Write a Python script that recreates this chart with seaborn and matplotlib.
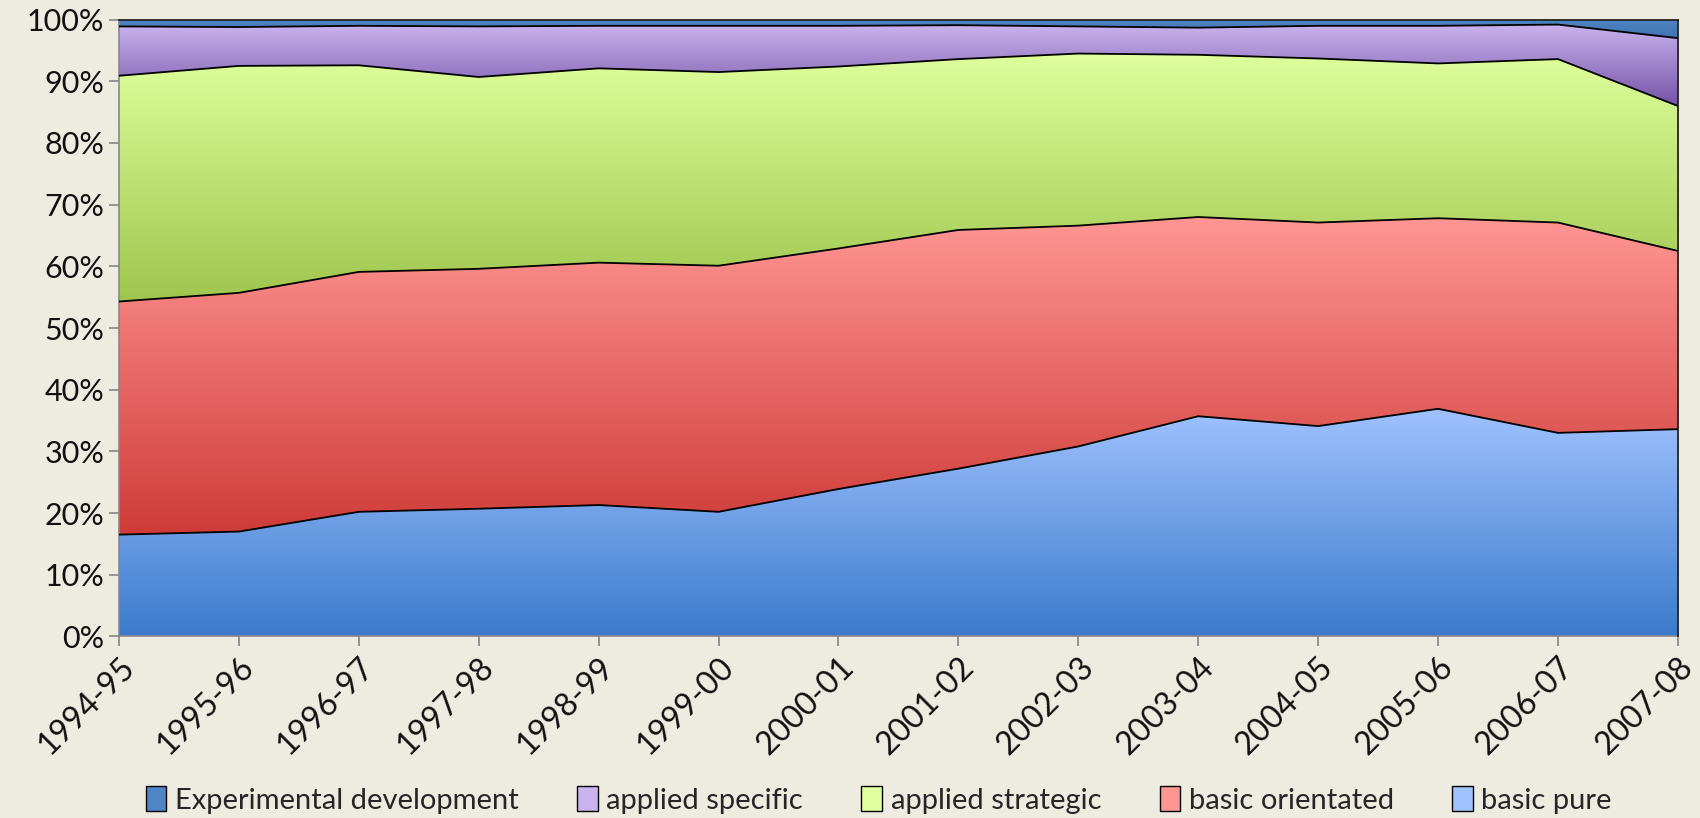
"""100% stacked area chart of research funding by activity type."""

import matplotlib
matplotlib.use("Agg")
import matplotlib.pyplot as plt
import numpy as np
import seaborn as sns
from matplotlib.colors import LinearSegmentedColormap
from matplotlib.patches import Patch
from matplotlib.ticker import FuncFormatter

years = ["1994-95", "1995-96", "1996-97", "1997-98", "1998-99", "1999-00", "2000-01",
         "2001-02", "2002-03", "2003-04", "2004-05", "2005-06", "2006-07", "2007-08"]

# shares in percent, bottom to top
basic_pure = [16.5, 17.0, 20.2, 20.7, 21.3, 20.2, 23.9, 27.2, 30.8, 35.7, 34.1, 36.9, 33.0, 33.6]
basic_orientated = [37.8, 38.7, 38.9, 38.9, 39.3, 39.9, 39.0, 38.7, 35.8, 32.3, 33.0, 30.9, 34.1, 28.9]
applied_strategic = [36.6, 36.8, 33.5, 31.1, 31.5, 31.4, 29.5, 27.7, 27.9, 26.3, 26.6, 25.1, 26.5, 23.5]
applied_specific = [8.0, 6.3, 6.4, 8.2, 6.9, 7.5, 6.6, 5.5, 4.4, 4.4, 5.3, 6.1, 5.6, 11.0]
experimental_dev = [1.1, 1.2, 1.0, 1.1, 1.0, 1.0, 1.0, 0.9, 1.1, 1.3, 1.0, 1.0, 0.8, 3.0]

series_names = ["basic pure", "basic orientated", "applied strategic",
                "applied specific", "Experimental development"]
series_values = [basic_pure, basic_orientated, applied_strategic,
                 applied_specific, experimental_dev]
# (light top colour, dark bottom colour) for each series
gradients = [("#A0C2FF", "#3B7BCC"), ("#FF9694", "#CF3B37"), ("#DEFF9C", "#9FC64E"),
             ("#C9B3EE", "#7452A6"), ("#4F85C4", "#3F72B0")]

sns.set_theme(style="ticks", rc={
    "figure.facecolor": "#EEECE1",
    "axes.facecolor": "#EEECE1",
    "savefig.facecolor": "#EEECE1",
})
plt.rcParams["font.family"] = ["Lato", "DejaVu Sans"]

fig, ax = plt.subplots(figsize=(17, 8.18), dpi=100)
fig.subplots_adjust(left=0.070, right=0.987, top=0.976, bottom=0.222)

x = np.arange(len(years))
data = np.array(series_values)
tops = np.cumsum(data, axis=0)
bottoms = tops - data
grad = np.linspace(0, 1, 256).reshape(-1, 1)

for i, name in enumerate(series_names):
    lo, hi = bottoms[i], tops[i]
    poly = ax.fill_between(x, lo, hi, facecolor="none", edgecolor="none")
    cmap = LinearSegmentedColormap.from_list(name, [gradients[i][1], gradients[i][0]])
    im = ax.imshow(grad, extent=[x[0], x[-1], lo.min(), hi.max()], origin="lower",
                   aspect="auto", cmap=cmap, zorder=1)
    im.set_clip_path(poly.get_paths()[0], transform=ax.transData)

for i in range(len(series_names) - 1):
    sns.lineplot(x=x, y=tops[i], color="black", linewidth=1.3, ax=ax, zorder=3)

ax.set_xlim(x[0], x[-1])
ax.set_ylim(0, 100)
ax.set_yticks(np.arange(0, 101, 10))
ax.yaxis.set_major_formatter(FuncFormatter(lambda v, _: f"{v:.0f}%"))
ax.set_xticks(x)
ax.set_xticklabels(years, rotation=45, ha="right", rotation_mode="anchor")
ax.tick_params(axis="both", length=7, color="#888888", colors="#111111")
ax.tick_params(axis="y", labelsize=22)
ax.tick_params(axis="x", labelsize=23, pad=4)
for side in ["left", "bottom"]:
    ax.spines[side].set_color("#888888")
    ax.spines[side].set_linewidth(1.2)
for side in ["top", "right"]:
    ax.spines[side].set_visible(True)
    ax.spines[side].set_color("#222222")
    ax.spines[side].set_linewidth(1.3)
    ax.spines[side].set_zorder(4)

handles = [Patch(facecolor=gradients[i][0], edgecolor="black", linewidth=1.0,
                 label=series_names[i])
           for i in range(len(series_names) - 1, -1, -1)]
fig.legend(handles=handles, loc="center", bbox_to_anchor=(0.517, 0.022), ncol=5,
           frameon=False, fontsize=21, handlelength=0.7, handleheight=0.95,
           handletextpad=0.3, columnspacing=2.0)

fig.savefig("out.png", dpi=100)
plt.close(fig)
